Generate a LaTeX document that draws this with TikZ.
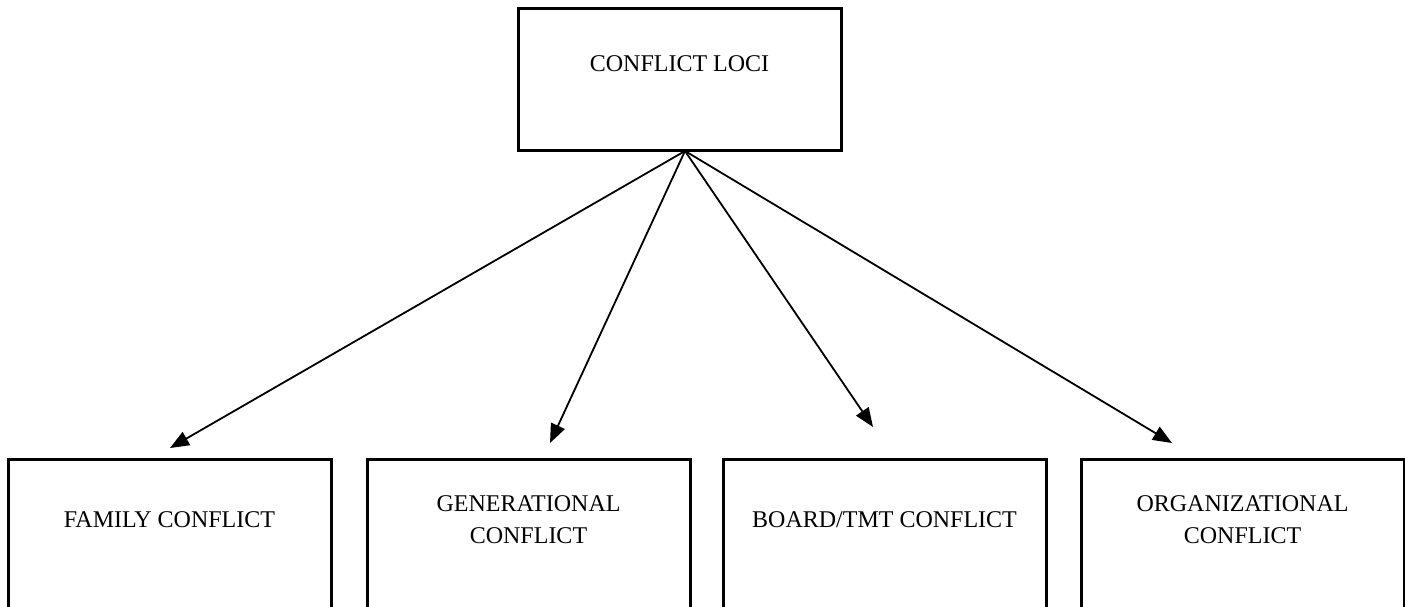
\documentclass[tikz,border=0pt]{standalone}
\usepackage{fontspec}
\setmainfont{Liberation Serif}
\usetikzlibrary{positioning,arrows.meta}

\tikzset{
  locus/.style={draw,line width=3pt,minimum width=323pt,inner sep=0pt},
  lbl/.style={font=\fontsize{24}{32}\selectfont,align=center,inner sep=0pt},
  link/.style={-{Triangle[length=19pt,width=15pt]},line width=1.8pt}
}

\begin{document}
\begin{tikzpicture}[x=1pt,y=-1pt]
  \useasboundingbox (0,0) rectangle (1405,606);
  \clip (0,0) rectangle (1405,606);
  % top box
  \node[locus,minimum height=142pt] (loci) at (679.5,79) {};
  \node[lbl] (locit) at (679.5,64) {CONFLICT LOCI};
  % the four kinds of conflict (boxes run off the bottom)
  \node[locus,minimum height=160pt] (fam) at (169.5,539) {};
  \node[locus,minimum height=160pt] (gen) at (528.5,539) {};
  \node[locus,minimum height=160pt] (brd) at (884.5,539) {};
  \node[locus,minimum height=160pt] (org) at (1242.5,539) {};
  \node[lbl] (famt) at (169.5,520) {FAMILY CONFLICT};
  \node[lbl] (gent) at (528.5,520) {GENERATIONAL\\CONFLICT};
  \node[lbl] (brdt) at (884.5,520) {BOARD/TMT CONFLICT};
  \node[lbl] (orgt) at (1242.5,520) {ORGANIZATIONAL\\CONFLICT};
  % arrows
  \coordinate (hub) at (685,151);
  \coordinate (famtip) at (170,448);
  \coordinate (gentip) at (550,443);
  \coordinate (brdtip) at (873,427);
  \coordinate (orgtip) at (1172,443);
  \draw[link] (hub) -- (famtip);
  \draw[link] (hub) -- (gentip);
  \draw[link] (hub) -- (brdtip);
  \draw[link] (hub) -- (orgtip);
\end{tikzpicture}
\end{document}
